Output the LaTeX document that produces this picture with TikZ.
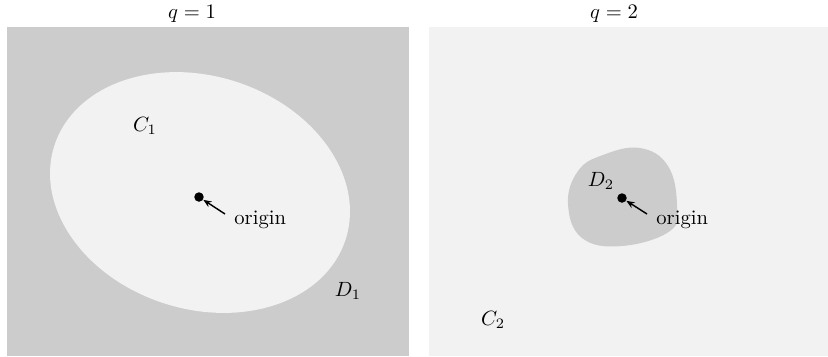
\documentclass[tikz,border=0pt]{standalone}
\usetikzlibrary{arrows.meta}
\definecolor{darkfill}{HTML}{CCCCCC}
\definecolor{lightfill}{HTML}{F2F2F2}
\begin{document}
\begin{tikzpicture}[x=0.485pt,y=-0.485pt,
  dotstyle/.style={circle,fill=black,inner sep=0pt,minimum size=4.6pt},
  pointer/.style={-{Stealth[length=4pt,width=3.2pt]},line width=0.7pt},
  lbl/.style={inner sep=0pt}]
\useasboundingbox (0,0) rectangle (828,356);
% left panel
\fill[darkfill] (7,27) rectangle (409,356);
\fill[lightfill,rotate around={-17.8:(200,192.5)}] (200,192.5) ellipse [x radius=74.2pt, y radius=56.5pt];
% right panel
\fill[lightfill] (429,27) rectangle (828,356);
\fill[darkfill] plot[smooth cycle, tension=0.7] coordinates {(640,148) (668,166) (677,205) (670,231) (622,246) (582,238) (568,204) (578,171) (603,155)};
% titles
\node[lbl] (t1) at (192,14) {$q=1$};
\node[lbl] (t2) at (614,14) {$q=2$};
% left labels
\node[dotstyle] (o1) at (199,197) {};
\coordinate (a1) at (225,214);
\draw[pointer] (a1) -- (o1);
\node[lbl,anchor=west] (origin1) at (234,220) {origin};
\node[lbl] (c1) at (145,126) {$C_1$};
\node[lbl] (d1) at (348,291) {$D_1$};
% right labels
\node[dotstyle] (o2) at (622,198) {};
\coordinate (a2) at (647,214);
\draw[pointer] (a2) -- (o2);
\node[lbl,anchor=west] (origin2) at (656,220) {origin};
\node[lbl] (d2) at (601,181) {$D_2$};
\node[lbl] (c2) at (493,320) {$C_2$};
\end{tikzpicture}
\end{document}
